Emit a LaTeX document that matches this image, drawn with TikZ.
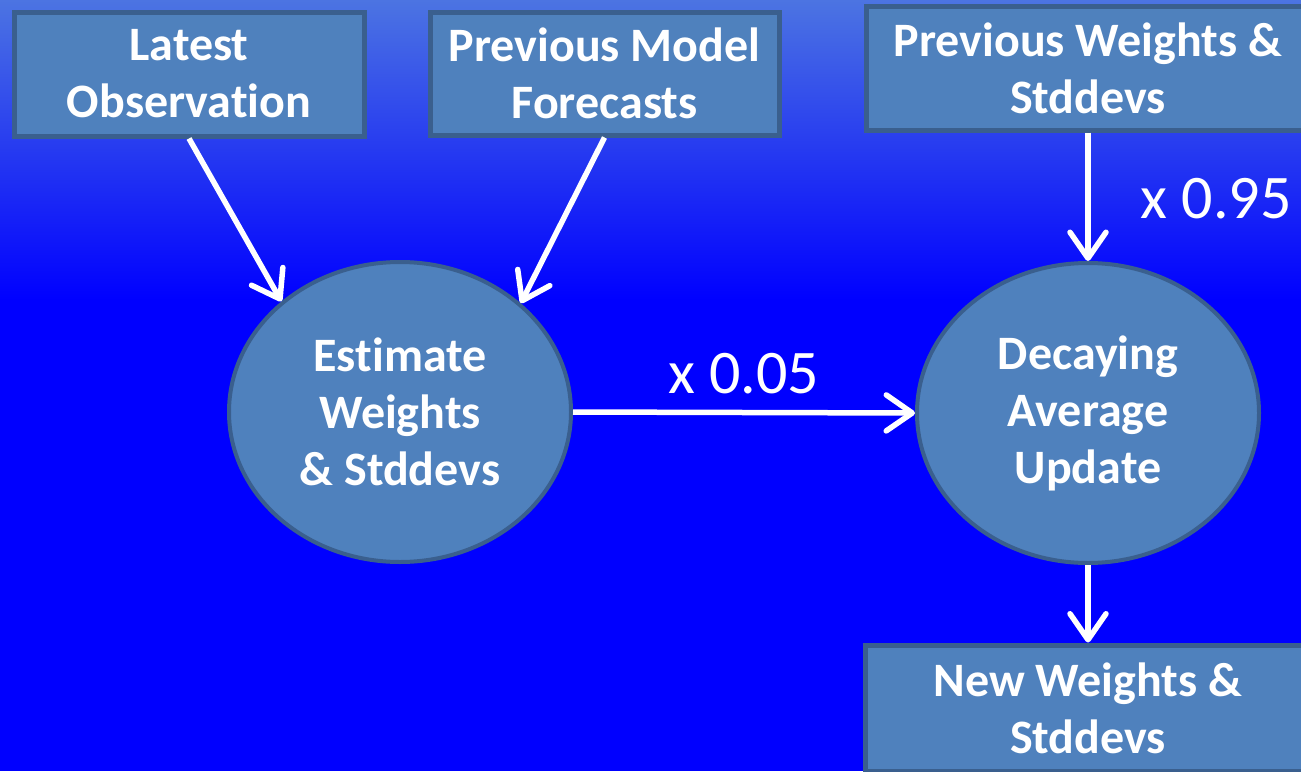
\documentclass[tikz,border=0pt]{standalone}
\usepackage{fontspec}
\setmainfont{Carlito}[Ligatures=NoCommon]
\usetikzlibrary{shapes.geometric,arrows.meta}
\definecolor{bgtop}{HTML}{4C74E2}
\definecolor{bgbot}{HTML}{0000FF}
\definecolor{boxfill}{HTML}{4F81BD}
\definecolor{boxedge}{HTML}{3A5F8E}
\tikzset{
  x=1pt, y=1pt,
  inbox/.style={rectangle, fill=boxfill, draw=boxedge, line width=5pt, inner sep=0pt,
    text=white, font=\fontsize{48}{57}\selectfont\bfseries, align=center},
  oval/.style={ellipse, fill=boxfill, draw=boxedge, line width=4pt, inner sep=0pt,
    minimum width=342pt, minimum height=300pt,
    text=white, font=\fontsize{48}{57}\selectfont\bfseries, align=center},
  flow/.style={draw=white, line width=5.5pt, -{Straight Barb[length=26pt,width=36pt,round]}},
  factor/.style={text=white, font=\fontsize{62}{68}\selectfont, inner sep=0pt}
}
\begin{document}
\begin{tikzpicture}
\useasboundingbox (0,0) rectangle (1301,-771);
\clip (0,0) rectangle (1301,-771);
\shade[top color=bgtop, bottom color=bgbot] (0,0) rectangle (1301,-300);
\fill[bgbot] (0,-299.5) rectangle (1301,-771);

\node[inbox, minimum width=350pt, minimum height=124pt] (b1) at (189,-74) {Latest\\Observation};
\node[inbox, minimum width=349pt, minimum height=123pt] (b2) at (604.5,-73.5) {Previous Model\\Forecasts};
\node[inbox, minimum width=444pt, minimum height=124pt] (b3) at (1088,-68) {Previous Weights \&\\Stddevs};
\node[inbox, minimum width=446pt, minimum height=126pt] (b4) at (1088,-708) {New Weights \&\\Stddevs};

\node[oval] (e1) at (400,-412) {Estimate\\Weights\\\& Stddevs};
\node[oval] (e2) at (1088,-413) {Decaying\\Average\\Update};

\draw[flow] (b1.south) -- (e1.137.5);
\draw[flow] (b2.south) -- (e1.42);
\draw[flow] (e1.east) -- (e2.west)
  node[factor, midway, anchor=base, yshift=19pt] {x 0.05};
\draw[flow] (b3.south) -- (e2.north)
  node[factor, pos=0.667, anchor=base west, xshift=50pt] {x 0.95};
\draw[flow] (e2.south) -- (b4.north);
\end{tikzpicture}
\end{document}
